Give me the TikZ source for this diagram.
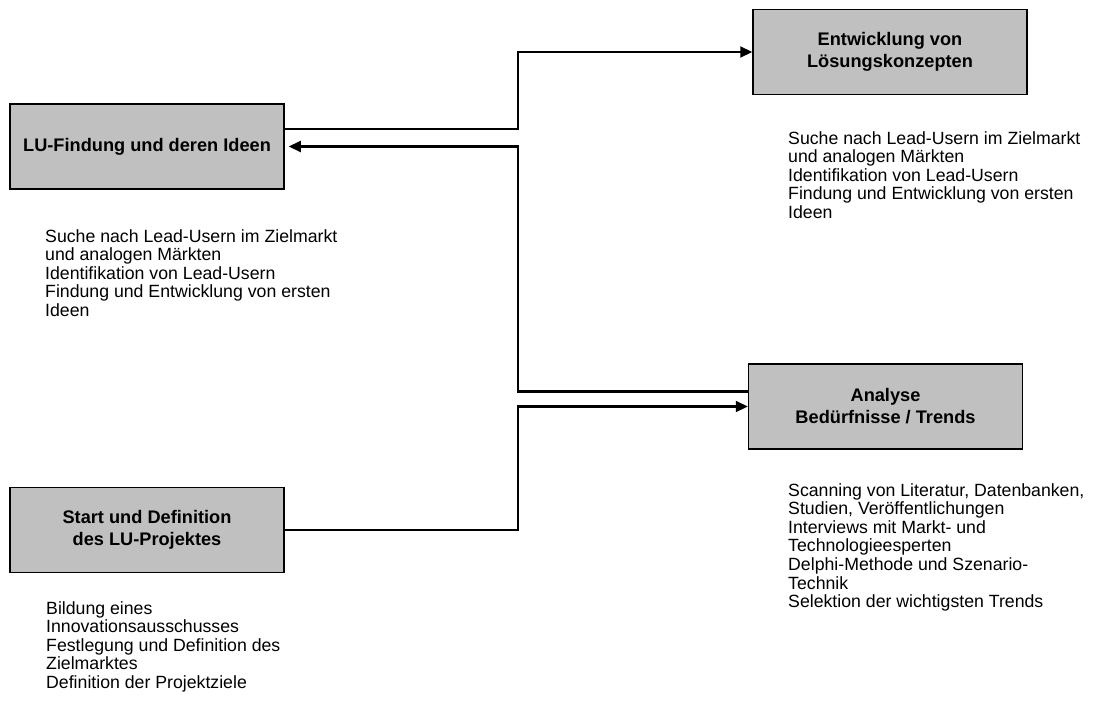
\documentclass[tikz,border=0pt]{standalone}
\usepackage{fontspec}
\setmainfont{Liberation Sans}
\usetikzlibrary{arrows.meta}

\tikzset{
  phase/.style={draw=black, line width=1.5pt, fill={rgb,255:red,192;green,192;blue,192},
    minimum width=274pt, minimum height=85pt, inner sep=0pt, align=center,
    font=\fontsize{18.2}{22}\selectfont\bfseries},
  info/.style={anchor=north west, inner sep=0pt, align=left,
    font=\fontsize{17.7}{18.6}\selectfont},
  pfeil/.style={line width=2.1pt, -{Triangle[length=12pt,width=11pt]}},
  linie/.style={line width=2.1pt}
}

\begin{document}
\begin{tikzpicture}[x=1pt, y=-1pt]
	
	% frame
	\useasboundingbox (0,0) rectangle (1099,720);
	
	% phases
	\node[phase] (lu)    at (147,146.5)   {LU-Findung und deren Ideen};
	\node[phase] (entw)  at (890,52)      {Entwicklung von\\Lösungskonzepten};
	\node[phase] (ana)   at (885.5,406.5) {Analyse\\Bedürfnisse / Trends};
	\node[phase] (start) at (147,530)     {Start und Definition\\des LU-Projektes};
	
	% descriptions
	\node[info] (luinfo) at (45,229) {Suche nach Lead-Usern im Zielmarkt\\und analogen Märkten\\Identifikation von Lead-Usern\\Findung und Entwicklung von ersten\\Ideen};
	\node[info] (entwinfo) at (788,131) {Suche nach Lead-Usern im Zielmarkt\\und analogen Märkten\\Identifikation von Lead-Usern\\Findung und Entwicklung von ersten\\Ideen};
	\node[info] (anainfo) at (788,483) {Scanning von Literatur, Datenbanken,\\Studien, Veröffentlichungen\\Interviews mit Markt- und\\Technologieesperten\\Delphi-Methode und Szenario-\\Technik\\Selektion der wichtigsten Trends};
	\node[info] (startinfo) at (46,601) {Bildung eines\\Innovationsausschusses\\Festlegung und Definition des\\Zielmarktes\\Definition der Projektziele};
	
	% connectors
	\coordinate (bus) at (518,0);
	\draw[pfeil] ([yshift=17.5pt]lu.east) -| (bus |- entw.west) -- (entw.west);
	\draw[pfeil] ([yshift=15pt]ana.west) -| (bus |- lu.east) -- ([xshift=4pt]lu.east);
	\draw[pfeil] (start.east) -| (bus |- ana.west) -- (ana.west);
	
\end{tikzpicture}
\end{document}
